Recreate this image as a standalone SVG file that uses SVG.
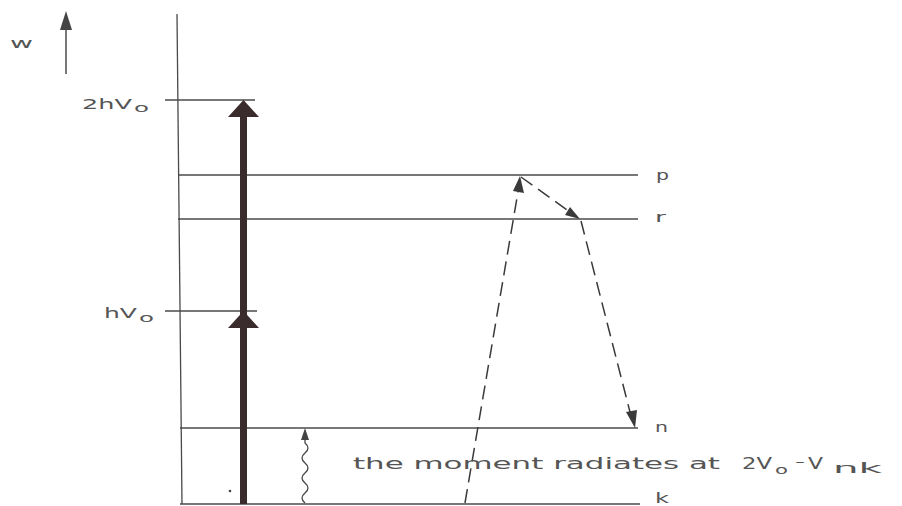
<svg xmlns="http://www.w3.org/2000/svg" width="902" height="506" viewBox="0 0 902 506">
<defs>
<style>
.ln{stroke:#4a4a4a;stroke-width:1.3;fill:none}
.ds{stroke:#3a3a3a;stroke-width:1.5;fill:none;stroke-dasharray:14 7}
.t{font-family:"DejaVu Sans",sans-serif;fill:#555;font-size:16px}
.tl{font-family:"DejaVu Sans",sans-serif;fill:#555;font-size:14px}
.ts{font-family:"DejaVu Sans",sans-serif;fill:#555;font-size:13px}
</style>
</defs>
<rect width="902" height="506" fill="#fff"/>
<g id="axis">
<line class="ln" x1="177" y1="14" x2="182" y2="504"/>
<line class="ln" x1="180" y1="504" x2="640" y2="504"/>
</g>
<g id="w-arrow">
<line x1="66" y1="74" x2="66" y2="24" stroke="#555" stroke-width="1.6"/>
<path d="M60,30 L66,11 L72,30 Z" fill="#444"/>
<text class="tl" x="10" y="48" textLength="23" lengthAdjust="spacingAndGlyphs">w</text>
</g>
<g id="level-2hv0">
<line class="ln" x1="165" y1="100" x2="255" y2="100"/>
<text class="tl" x="82" y="108.5" textLength="50" lengthAdjust="spacingAndGlyphs">2hV</text>
<text class="ts" x="134" y="112" textLength="15" lengthAdjust="spacingAndGlyphs">o</text>
</g>
<g id="level-hv0">
<line class="ln" x1="165" y1="311" x2="257" y2="311"/>
<text class="tl" x="104" y="318" textLength="33" lengthAdjust="spacingAndGlyphs">hV</text>
<text class="ts" x="139" y="322" textLength="15" lengthAdjust="spacingAndGlyphs">o</text>
</g>
<g id="level-p">
<line class="ln" x1="178" y1="175" x2="638" y2="175"/>
<text class="tl" x="656" y="180" textLength="13" lengthAdjust="spacingAndGlyphs">p</text>
</g>
<g id="level-r">
<line class="ln" x1="178" y1="219" x2="638" y2="219"/>
<text class="tl" x="655" y="222" textLength="11" lengthAdjust="spacingAndGlyphs">r</text>
</g>
<g id="level-n">
<line class="ln" x1="180" y1="428" x2="638" y2="428"/>
<text class="tl" x="655" y="432" textLength="13" lengthAdjust="spacingAndGlyphs">n</text>
</g>
<g id="level-k">
<text class="tl" x="655" y="503" textLength="14" lengthAdjust="spacingAndGlyphs">k</text>
</g>
<g id="thick-arrow">
<rect x="240" y="112" width="7" height="392" fill="#3a2c2c"/>
<path d="M228,117 L243.5,100 L259,117 Z" fill="#3a2c2c"/>
<path d="M228,328 L243.5,311 L259,328 Z" fill="#3a2c2c"/>
<circle cx="230" cy="491" r="1.3" fill="#444"/>
</g>
<g id="connectors">
<path d="M305,503 q-6,-5 0,-10 q6,-5 0,-10 q-6,-5 0,-10 q6,-5 0,-10 q-6,-5 0,-10 q6,-5 0,-10 L305,436" stroke="#444" stroke-width="1.3" fill="none"/>
<path d="M301,440 L305,428 L309,440 Z" fill="#444"/>
<line class="ds" x1="465" y1="503" x2="519" y2="186"/>
<path d="M513,191 L520,176 L524,193 Z" fill="#3a3a3a"/>
<line class="ds" x1="521" y1="177" x2="570" y2="212"/>
<path d="M565,215 L580,219 L570,207 Z" fill="#3a3a3a"/>
<line class="ds" x1="581" y1="221" x2="630" y2="412"/>
<path d="M626,412 L635,428 L637,410 Z" fill="#3a3a3a"/>
</g>
<g id="caption">
<text class="t" x="353" y="469" textLength="367" lengthAdjust="spacingAndGlyphs">the moment radiates at</text>
<text class="t" x="742" y="469" textLength="30" lengthAdjust="spacingAndGlyphs">2V</text>
<text class="ts" x="775" y="474" textLength="13" lengthAdjust="spacingAndGlyphs">o</text>
<text class="ts" x="795" y="466" textLength="10" lengthAdjust="spacingAndGlyphs">-</text>
<text class="t" x="808" y="469" textLength="15" lengthAdjust="spacingAndGlyphs">V</text>
<text class="tl" x="833" y="473" textLength="49" lengthAdjust="spacingAndGlyphs">nk</text>
</g>
</svg>
